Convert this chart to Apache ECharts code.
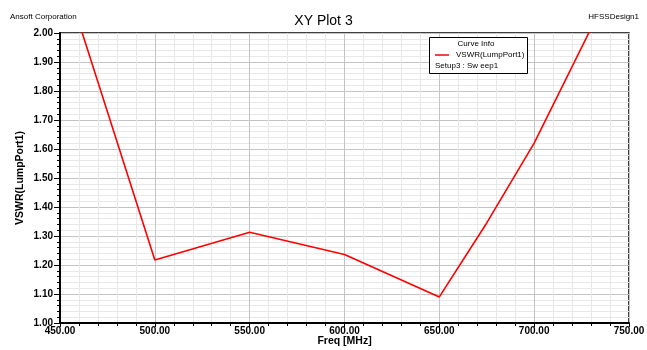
<!DOCTYPE html>
<html>
<head>
<meta charset="utf-8">
<title>XY Plot 3</title>
<script src="https://cdn.jsdelivr.net/npm/echarts@6/dist/echarts.min.js"></script>
<style>
  html, body { margin: 0; padding: 0; background: #ffffff; }
  #chart { width: 647px; height: 350px; }
</style>
</head>
<body>
<div id="chart"></div>
<script>
// Sweep frequencies (MHz) and VSWR at LumpPort1
const freqMHz = [450, 500, 550, 600, 650, 675, 700, 750];
const vswr    = [2.24, 1.217, 1.313, 1.236, 1.09, 1.345, 1.62, 2.28];

const xTicks = { min: 450, max: 750, step: 50 };
const yTicks = { min: 1.0, max: 2.0, step: 0.1 };

const FONT = 'Liberation Sans, Arial, sans-serif';

const chart = echarts.init(document.getElementById('chart'), null, { renderer: 'canvas' });

const points = freqMHz.map((f, i) => [f, vswr[i]]);

chart.setOption({
  backgroundColor: '#ffffff',
  animation: false,
  title: {
    text: 'XY Plot 3',
    left: 'center',
    top: 9,
    textStyle: { fontFamily: FONT, fontSize: 14, fontWeight: 'normal', color: '#000' }
  },
  grid: {
    left: 60, right: 18, top: 33, bottom: 27,
    outerBoundsMode: 'none',
    containLabel: false,
    show: true,
    borderColor: '#000',
    borderWidth: 1.5,
    backgroundColor: '#ffffff'
  },
  xAxis: {
    type: 'value',
    min: xTicks.min, max: xTicks.max, interval: xTicks.step,
    name: 'Freq [MHz]',
    nameLocation: 'middle',
    nameMoveOverlap: false,
    nameGap: 13,
    nameTextStyle: { fontFamily: FONT, fontSize: 10.5, fontWeight: 'bold', color: '#000' },
    axisLine: { show: true, onZero: false, lineStyle: { color: '#000', width: 2 } },
    axisTick: { show: true, length: 4, lineStyle: { color: '#000', width: 1 } },
    minorTick: { show: true, splitNumber: 5, length: 3, lineStyle: { color: '#000', width: 1 } },
    axisLabel: {
      fontFamily: FONT, fontSize: 10, fontWeight: 'bold', color: '#000', margin: 3,
      formatter: v => v.toFixed(2)
    },
    splitLine: { show: true, lineStyle: { color: '#c4c4c4', width: 1 } },
    minorSplitLine: { show: true, lineStyle: { color: '#e8e8e8', width: 1 } }
  },
  yAxis: {
    type: 'value',
    min: yTicks.min, max: yTicks.max, interval: yTicks.step,
    name: 'VSWR(LumpPort1)',
    nameLocation: 'middle',
    nameMoveOverlap: false,
    nameGap: 34,
    nameTextStyle: { fontFamily: FONT, fontSize: 10.5, fontWeight: 'bold', color: '#000' },
    axisLine: { show: true, onZero: false, lineStyle: { color: '#000', width: 2 } },
    axisTick: { show: true, length: 6, lineStyle: { color: '#000', width: 1 } },
    minorTick: { show: true, splitNumber: 5, length: 3, lineStyle: { color: '#000', width: 1 } },
    axisLabel: {
      fontFamily: FONT, fontSize: 10, fontWeight: 'bold', color: '#000', margin: 7,
      formatter: v => v.toFixed(2)
    },
    splitLine: { show: true, lineStyle: { color: '#c4c4c4', width: 1 } },
    minorSplitLine: { show: true, lineStyle: { color: '#e8e8e8', width: 1 } }
  },
  series: [{
    name: 'VSWR(LumpPort1)',
    type: 'line',
    data: points,
    clip: true,
    symbol: 'none',
    lineStyle: { color: '#ff0000', width: 1.6 }
  }],
  graphic: [
    { type: 'text', left: 10, top: 13,
      style: { text: 'Ansoft Corporation', font: '8px ' + FONT, fill: '#000' } },
    { type: 'text', right: 8, top: 13,
      style: { text: 'HFSSDesign1', font: '8px ' + FONT, fill: '#000' } },
    // curve info box
    { type: 'rect', shape: { x: 429.5, y: 37.5, width: 98, height: 36 },
      style: { fill: '#ffffff', stroke: '#000', lineWidth: 1 }, z: 100 },
    { type: 'text', x: 476, y: 44, z: 101,
      style: { text: 'Curve Info', font: '8px ' + FONT, fill: '#000', align: 'center', verticalAlign: 'middle' } },
    { type: 'line', shape: { x1: 435, y1: 55, x2: 449, y2: 55 }, z: 101,
      style: { stroke: '#ff0000', lineWidth: 1.5 } },
    { type: 'text', x: 456, y: 55, z: 101,
      style: { text: 'VSWR(LumpPort1)', font: '8px ' + FONT, fill: '#000', verticalAlign: 'middle' } },
    { type: 'text', x: 435, y: 66, z: 101,
      style: { text: 'Setup3 : Sw eep1', font: '8px ' + FONT, fill: '#000', verticalAlign: 'middle' } }
  ]
});
</script>
</body>
</html>
